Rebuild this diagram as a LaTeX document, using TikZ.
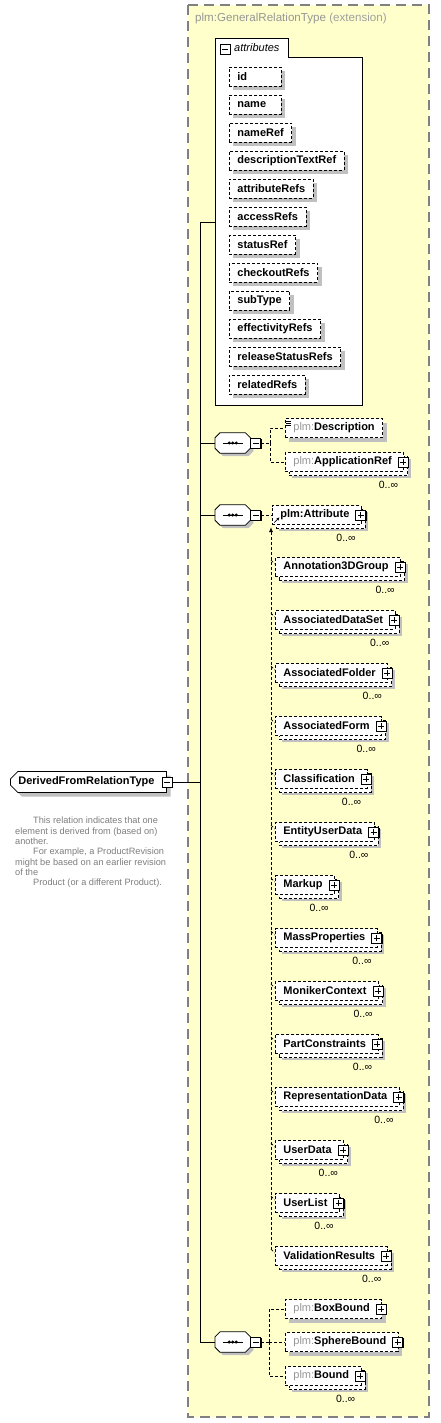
\documentclass[tikz,border=0pt]{standalone}
\usepackage{fontspec}
\setmainfont{Liberation Sans}
\usetikzlibrary{shapes.misc,shadows,arrows.meta,positioning}

\definecolor{extfill}{RGB}{255,255,204}
\definecolor{extline}{RGB}{128,128,128}
\definecolor{shade}{RGB}{192,192,192}
\definecolor{prefix}{RGB}{150,150,150}
\definecolor{extlight}{RGB}{160,160,160}
\definecolor{doctext}{RGB}{125,125,125}

\newcommand{\pfx}[1]{{\mdseries\color{prefix}#1}}
% short names keep a box of 36pt, with the text on the left
\newcommand{\padname}[1]{\setbox0\hbox{#1}\ifdim\wd0<36pt\hbox to 36pt{#1\hfil}\else#1\fi}

\tikzset{
  dsh/.style={dash pattern=on 3pt off 2pt},
  link/.style={line width=0.8pt},
  conn/.style={dsh, line width=0.8pt},
  extbox/.style={fill=extfill, draw=extline, line width=1.2pt, dash pattern=on 10pt off 6pt},
  title/.style={anchor=west, inner sep=0pt, font=\fontsize{11.6}{13}\selectfont, text=prefix},
  elem/.style={draw, dsh, line width=0.8pt, fill=white, anchor=west,
    font=\fontsize{11}{13}\selectfont\bfseries, inner xsep=8pt, inner ysep=0pt,
    minimum height=19pt,
    drop shadow={shadow xshift=4pt, shadow yshift=-4pt, fill=shade, opacity=1}},
  attrel/.style={elem},
  multi/.style={drop shadow={shadow xshift=7pt, shadow yshift=-6pt, fill=shade, opacity=1},
    preaction={draw, dsh, line width=0.8pt, fill=white, transform canvas={shift={(4pt,-4pt)}}}},
  mult/.style={font=\fontsize{10.5}{12}\selectfont, inner sep=0pt, anchor=north east,
    xshift=-6pt, yshift=-9pt},
  boxicon/.style={draw, solid, fill=white, minimum size=10pt, inner sep=0pt,
    line width=0.8pt,
    drop shadow={fill=black, opacity=1, shadow xshift=1pt, shadow yshift=-1pt}},
  minusbox/.style={boxicon, path picture={
      \draw[solid, line width=0.8pt] ([xshift=2pt]path picture bounding box.west)
        -- ([xshift=-2pt]path picture bounding box.east);}},
  plusbox/.style={boxicon, anchor=center, xshift=-1pt, path picture={
      \draw[solid, line width=0.8pt] ([xshift=2pt]path picture bounding box.west)
        -- ([xshift=-2pt]path picture bounding box.east)
        ([yshift=-2pt]path picture bounding box.north)
        -- ([yshift=2pt]path picture bounding box.south);}},
  plus/.style={execute at end node={\hspace*{4pt}}, label={[plusbox]east:{}}},
  refmark/.style={path picture={
      \draw[solid, line width=0.7pt, -{Stealth[length=3pt,width=3pt]}]
        ([shift={(2pt,2pt)}]path picture bounding box.south west) -- ++(5,-5);}},
  docmark/.style={path picture={
      \foreach \dy in {3,5,7}
        \draw[solid, line width=0.6pt]
          ([shift={(1pt,-\dy pt)}]path picture bounding box.north west) -- ++(5,0);}},
  seq/.style={rectangle, minimum width=35pt, minimum height=20pt, inner sep=0pt, anchor=west},
  octo/.style={draw, solid, fill=white, line width=0.8pt,
    drop shadow={shadow xshift=3pt, shadow yshift=-3pt, fill=shade, opacity=1}},
  root/.style={draw, solid, fill=white, chamfered rectangle,
    chamfered rectangle corners={north west,south west}, chamfered rectangle xsep=4pt,
    font=\fontsize{11}{13}\selectfont\bfseries, inner xsep=4pt, inner ysep=0pt,
    minimum height=21pt, anchor=west, line width=0.8pt,
    execute at end node={\hspace*{4pt}},
    drop shadow={shadow xshift=4pt, shadow yshift=-4pt, fill=shade, opacity=1}},
  doc/.style={anchor=north west, align=left, inner sep=0pt,
    font=\fontsize{9.2}{10.3}\selectfont, text=doctext}
}

\begin{document}
\begin{tikzpicture}[x=1pt,y=-1pt]
  \useasboundingbox (0,0) rectangle (440,1423);

  % extension of plm:GeneralRelationType
  \draw[extbox] (188,5) rectangle (429,1417);
  \node[title] (ttl) at (195,19) {plm:GeneralRelationType {\color{extlight}(extension)}};

  % attributes group
  \draw[fill=white, line width=0.8pt] (215,38) -| (288,57) -| (362,405) -| (215,38) -- cycle;
  \node[minusbox] (attrm) at (225,49) {};
  \node[anchor=west, inner sep=0pt, font=\fontsize{11}{13}\selectfont\itshape] (attrlbl) at (234,48) {attributes};
  \coordinate (attrin) at (215,222);
  \foreach \a [count=\i from 0] in {id,name,nameRef,descriptionTextRef,attributeRefs,accessRefs,
      statusRef,checkoutRefs,subType,effectivityRefs,releaseStatusRefs,relatedRefs}
    \node[attrel] (\a) at (229,76.5+28*\i) {\padname{\a}};

  % the three sequences
  \node[seq] (seqA) at (215,443) {};
  \node[seq] (seqB) at (215,515) {};
  \node[seq] (seqC) at (215,1342) {};
  \foreach \q in {seqA,seqB,seqC}{
    \draw[octo] ([yshift=-5pt]\q.north west) -- ([xshift=5pt]\q.north west)
      -- ([xshift=-5pt]\q.north east) -- ([yshift=-5pt]\q.north east)
      -- ([yshift=5pt]\q.south east) -- ([xshift=-5pt]\q.south east)
      -- ([xshift=5pt]\q.south west) -- ([yshift=5pt]\q.south west) -- cycle;
    \draw[line width=0.8pt] ([xshift=-10pt]\q.center) -- ([xshift=10pt]\q.center);
    \foreach \dx in {-3.5,0,3.5}
      \fill ([xshift=\dx pt]\q.center) circle (1.7pt);
  }
  \node[minusbox, right=0pt of seqA] (seqAm) {};
  \node[minusbox, right=0pt of seqB] (seqBm) {};
  \node[minusbox, right=0pt of seqC] (seqCm) {};

  % first sequence
  \node[elem, docmark] (desc) at (285,428) {\pfx{plm:}Description};
  \node[elem, multi, plus, label={[mult]south east:0..∞}] (appref) at (285,462) {\pfx{plm:}ApplicationRef};
  \coordinate (forkA) at (270,443);
  \draw[conn] (seqAm) -- (forkA) (forkA) |- (desc) (forkA) |- (appref);

  % second sequence, plm:Attribute and its substitutes
  \node[elem, multi, plus, refmark, label={[mult]south east:0..∞}] (attr) at (272,515) {plm:Attribute};
  \draw[conn] (seqBm) -- (attr);
  \foreach \s [count=\i from 0] in {Annotation3DGroup,AssociatedDataSet,AssociatedFolder,
      AssociatedForm,Classification,EntityUserData,Markup,MassProperties,MonikerContext,
      PartConstraints,RepresentationData,UserData,UserList,ValidationResults}
    \node[elem, multi, plus, label={[mult]south east:0..∞}] (\s) at (275,567+53*\i) {\s};
  \coordinate (subTop) at (271,527);
  \coordinate (subBot) at (271,1250);
  \draw[conn, -{Latex[length=5pt,width=4pt]}] (subBot) -- (subTop);
  \foreach \s in {Annotation3DGroup,AssociatedDataSet,AssociatedFolder,AssociatedForm,
      Classification,EntityUserData,Markup,MassProperties,MonikerContext,PartConstraints,
      RepresentationData,UserData,UserList,ValidationResults}
    \draw[conn] (\s.north west) ++(-4,3) -- ++(4,4);

  % third sequence
  \node[elem, plus] (boxb) at (285,1309) {\pfx{plm:}BoxBound};
  \node[elem, plus] (sphb) at (285,1342) {\pfx{plm:}SphereBound};
  \node[elem, multi, plus, label={[mult]south east:0..∞}] (bnd) at (285,1376) {\pfx{plm:}Bound};
  \coordinate (forkC) at (269,1342);
  \draw[conn] (seqCm) -- (forkC) (forkC) |- (boxb) (forkC) |- (sphb) (forkC) |- (bnd);

  % root element
  \node[root, label={[minusbox,anchor=center,name=rootm]east:{}}] (root) at (10,782) {DerivedFromRelationType};
  \node[doc] (rootdoc) at (15,817) {\hspace*{18pt}This relation indicates that one\\
    element is derived from (based on)\\another.\\
    \hspace*{18pt}For example, a ProductRevision\\
    might be based on an earlier revision\\of the\\
    \hspace*{18pt}Product (or a different Product).};

  \coordinate (hub) at (200,782);
  \draw[link] (rootm) -- (hub);
  \draw[link] (hub) |- (attrin) (hub) |- (seqA) (hub) |- (seqB) (hub) |- (seqC);
\end{tikzpicture}
\end{document}
